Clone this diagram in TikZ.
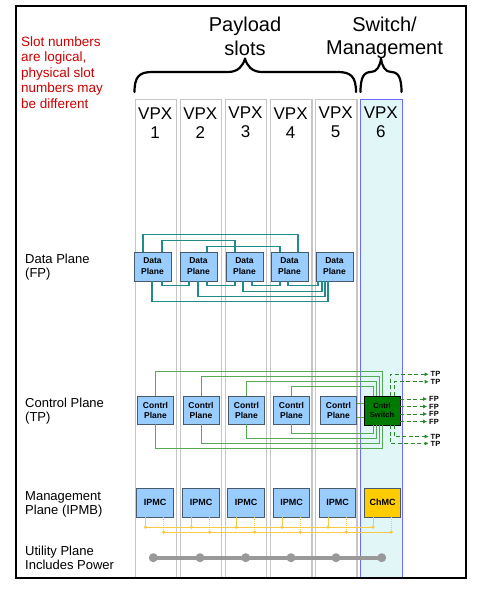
\documentclass[tikz,border=0pt]{standalone}
\usepackage{fontspec}
\setmainfont{Liberation Sans}
\usetikzlibrary{calc,arrows.meta}
\definecolor{slotgray}{HTML}{C6C6C6}
\definecolor{slotblue}{HTML}{6B6BFF}
\definecolor{slotcyan}{HTML}{E1F6F6}
\definecolor{boxblue}{HTML}{99CCFF}
\definecolor{boxedge}{HTML}{4A5A6A}
\definecolor{dpteal}{HTML}{218A8A}
\definecolor{cpgreen}{HTML}{55AA55}
\definecolor{outgreen}{HTML}{2A8A2A}
\definecolor{swgreen}{HTML}{007A00}
\definecolor{chgold}{HTML}{FFCC00}
\definecolor{ipmbgold}{HTML}{F7C945}
\definecolor{utilgray}{HTML}{999999}
\definecolor{notered}{HTML}{CC0000}
\begin{document}
\begin{tikzpicture}[x=1pt,y=-1pt,
 slotcol/.style={draw=slotgray,line width=1.2pt,fill=white,inner sep=0pt,minimum width=41.5pt,minimum height=479pt,anchor=north west},
 slotsix/.style={slotcol,draw=slotblue,fill=slotcyan},
 vpxlbl/.style={font={\fontsize{17pt}{19pt}\selectfont},align=center,inner sep=0pt},
 headtxt/.style={font={\fontsize{20pt}{23.3pt}\selectfont},align=center,inner sep=0pt},
 sidetxt/.style={font={\fontsize{13pt}{13.6pt}\selectfont},align=left,inner sep=0pt,anchor=west},
 notetxt/.style={sidetxt,text=notered,font={\fontsize{13.5pt}{15.4pt}\selectfont}},
 pbox/.style={draw=boxedge,line width=0.8pt,fill=boxblue,inner sep=0pt,align=center},
 dbox/.style={pbox,minimum width=37pt,minimum height=29pt,font={\bfseries\fontsize{8.5pt}{11pt}\selectfont}},
 cbox/.style={pbox,minimum width=36pt,minimum height=28pt,font={\bfseries\fontsize{8.5pt}{10pt}\selectfont}},
 swbox/.style={pbox,fill=swgreen,draw=black,minimum width=36pt,minimum height=29pt,font={\bfseries\fontsize{7.5pt}{9pt}\selectfont}},
 ibox/.style={pbox,minimum width=36.5pt,minimum height=29pt,font={\bfseries\fontsize{9pt}{10pt}\selectfont}},
 chbox/.style={ibox,fill=chgold},
 dpl/.style={draw=dpteal,line width=1.1pt},
 cpl/.style={draw=cpgreen,line width=1pt},
 outl/.style={draw=outgreen,line width=1pt,dash pattern=on 4pt off 2.5pt,-{Triangle[length=4pt,width=3.5pt]},shorten >=2pt},
 outlbl/.style={font={\bfseries\fontsize{7.5pt}{8pt}\selectfont},inner sep=0pt,anchor=west},
 ipmb/.style={draw=ipmbgold,line width=0.9pt},
 ipmbdot/.style={circle,fill=ipmbgold,inner sep=0pt,minimum size=3.6pt},
 utilline/.style={draw=utilgray,line width=4pt},
 utildot/.style={circle,fill=utilgray,inner sep=0pt,minimum size=9pt},
 bracepath/.style={draw=black,line width=2.2pt,line cap=round,line join=round}
]
\useasboundingbox (0,0) rectangle (490,591);
% slot columns
\node[slotcol] (s1) at (134.5,99) {};
\node[slotcol] (s2) at (179.6,99) {};
\node[slotcol] (s3) at (224.7,99) {};
\node[slotcol] (s4) at (269.8,99) {};
\node[slotcol] (s5) at (314.9,99) {};
\node[slotsix] (s6) at (360.0,99) {};
% slot labels
\node[vpxlbl] (v1) at (155.2,122.7) {VPX\\1};
\node[vpxlbl] (v2) at (200.3,122.7) {VPX\\2};
\node[vpxlbl] (v3) at (245.5,122.7) {VPX\\3};
\node[vpxlbl] (v4) at (290.6,122.7) {VPX\\4};
\node[vpxlbl] (v5) at (335.7,122.7) {VPX\\5};
\node[vpxlbl] (v6) at (380.8,122.7) {VPX\\6};
% headers
\node[headtxt] (hpay) at (245,36.3) {Payload\\slots};
\node[headtxt] (hsw) at (384.5,38) {Switch/\\Management};
\node[notetxt] (note) at (21,72.4) {Slot numbers\\are logical,\\physical slot\\numbers may\\be different};
% braces
\draw[bracepath] (134.5,92) .. controls (134.5,77) and (139,72) .. (152,72) -- (228,72)
  .. controls (238,72) and (243,66) .. (245,58.5) .. controls (247,66) and (252,72) .. (262,72)
  -- (338,72) .. controls (351,72) and (356,77) .. (356,92);
\draw[bracepath] (360.5,92) .. controls (360.5,77) and (364,72) .. (371,72)
  .. controls (377,72) and (380,66) .. (381,58.5) .. controls (382,66) and (385,72) .. (391,72)
  .. controls (398,72) and (401.5,77) .. (401.5,92);
% side labels
\node[sidetxt] (ldp) at (25,267) {Data Plane\\(FP)};
\node[sidetxt] (lcp) at (25,411) {Control Plane\\(TP)};
\node[sidetxt] (lmp) at (25,504.5) {Management\\Plane (IPMB)};
\node[sidetxt] (lup) at (25,558) {Utility Plane\\Includes Power};
% data plane
\node[dbox] (d1) at (152.5,266.5) {Data\\Plane};
\node[dbox] (d2) at (198.5,266.5) {Data\\Plane};
\node[dbox] (d3) at (244.5,266.5) {Data\\Plane};
\node[dbox] (d4) at (289.5,266.5) {Data\\Plane};
\node[dbox] (d5) at (334.5,266.5) {Data\\Plane};
\draw[dpl] ([xshift=-9.5pt]d1.north) -- ++(0,-17) -| ([xshift=8.5pt]d4.north);
\draw[dpl] ([xshift=9.5pt]d1.north) -- ++(0,-11) -| ([xshift=-9.5pt]d3.north);
\draw[dpl] ([xshift=8.5pt]d2.north) -- ++(0,-5) -| ([xshift=-9.5pt]d4.north);
\draw[dpl] ([xshift=9.5pt]d1.south) -- ++(0,4) -| ([xshift=-9.5pt]d2.south);
\draw[dpl] ([xshift=8.5pt]d2.south) -- ++(0,4) -| ([xshift=-9.5pt]d3.south);
\draw[dpl] ([xshift=7.5pt]d3.south) -- ++(0,4) -| ([xshift=-9.5pt]d4.south);
\draw[dpl] ([xshift=-1.5pt]d4.south) -- ++(0,4) -| ([xshift=-16.5pt]d5.south);
\draw[dpl] ([xshift=-1.5pt]d3.south) -- ++(0,10) -| ([xshift=-12.5pt]d5.south);
\draw[dpl] ([xshift=-0.5pt]d2.south) -- ++(0,15) -| ([xshift=-9.5pt]d5.south);
\draw[dpl] ([xshift=-0.5pt]d1.south) -- ++(0,20) -| ([xshift=-6.5pt]d5.south);
% control plane
\node[cbox] (c1) at (155.5,410) {Contrl\\Plane};
\node[cbox] (c2) at (201,410) {Contrl\\Plane};
\node[cbox] (c3) at (246.5,410) {Contrl\\Plane};
\node[cbox] (c4) at (291.5,410) {Contrl\\Plane};
\node[cbox] (c5) at (338.5,410) {Contrl\\Plane};
\node[swbox] (sw) at (382,410.5) {Cntrl\\Switch};
\draw[cpl] (c1.north) -- ++(0,-24) -| (sw.north);
\draw[cpl] (c2.north) -- ++(0,-19) -| ([xshift=-3pt]sw.north);
\draw[cpl] (c3.north) -- ++(0,-14) -| ([xshift=-6pt]sw.north);
\draw[cpl] (c4.north) -- ++(0,-9) -| ([xshift=-9pt]sw.north);
\draw[cpl] (c1.south) -- ++(0,24) -| (sw.south);
\draw[cpl] (c2.south) -- ++(0,19) -| ([xshift=-3pt]sw.south);
\draw[cpl] (c3.south) -- ++(0,14) -| ([xshift=-6pt]sw.south);
\draw[cpl] (c4.south) -- ++(0,9) -| ([xshift=-9pt]sw.south);
\draw[cpl] ($(c5.east)+(0,-7)$) coordinate (k1) -- (k1 -| sw.west);
\draw[cpl] ($(c5.east)+(0,7)$) coordinate (k2) -- (k2 -| sw.west);
% switch outputs
\node[outlbl] (tp1) at (430.5,374.3) {TP};
\node[outlbl] (tp2) at (430.5,381.7) {TP};
\node[outlbl] (fp1) at (429,399) {FP};
\node[outlbl] (fp2) at (429,406.5) {FP};
\node[outlbl] (fp3) at (429,414) {FP};
\node[outlbl] (fp4) at (429,421.5) {FP};
\node[outlbl] (tp3) at (430.5,436.5) {TP};
\node[outlbl] (tp4) at (430.5,443.5) {TP};
\draw[outl] ([xshift=8pt]sw.north) |- (tp1.west);
\draw[outl] ([xshift=12pt]sw.north) |- (tp2.west);
\draw[outl] (sw.east |- fp1.west) -- (fp1.west);
\draw[outl] (sw.east |- fp2.west) -- (fp2.west);
\draw[outl] (sw.east |- fp3.west) -- (fp3.west);
\draw[outl] (sw.east |- fp4.west) -- (fp4.west);
\draw[outl] ([xshift=12pt]sw.south) |- (tp3.west);
\draw[outl] ([xshift=8pt]sw.south) |- (tp4.west);
% management plane
\node[ibox] (i1) at (155,502.5) {IPMC};
\node[ibox] (i2) at (201,502.5) {IPMC};
\node[ibox] (i3) at (246,502.5) {IPMC};
\node[ibox] (i4) at (291.5,502.5) {IPMC};
\node[ibox] (i5) at (337.5,502.5) {IPMC};
\node[chbox] (i6) at (382.5,502.5) {ChMC};
\foreach \i in {1,...,6} {
  \coordinate (pa\i) at ($(i\i.south)+(-9.5,9.7)$);
  \coordinate (pb\i) at ($(i\i.south)+(8.7,14.7)$);
}
\draw[ipmb] (pa1) -- (pa6);
\draw[ipmb] (pb1) -- (pb6);
\foreach \i in {1,...,6} {
  \draw[ipmb] (i\i.south -| pa\i) -- (pa\i);
  \draw[ipmb,densely dotted] (i\i.south -| pb\i) -- (pb\i);
  \node[ipmbdot] (da\i) at (pa\i) {};
  \node[ipmbdot] (db\i) at (pb\i) {};
}
% utility plane
\coordinate (u1) at (153.3,557.7);
\coordinate (u2) at (200,557.7);
\coordinate (u3) at (245.7,557.7);
\coordinate (u4) at (291,557.7);
\coordinate (u5) at (336,557.7);
\coordinate (u6) at (381.7,557.7);
\draw[utilline] (u1) -- (u6);
\foreach \i in {1,...,6} { \node[utildot] (ud\i) at (u\i) {}; }
% frame
\draw[line width=2pt] (16,6) rectangle (466,578);
\end{tikzpicture}
\end{document}
